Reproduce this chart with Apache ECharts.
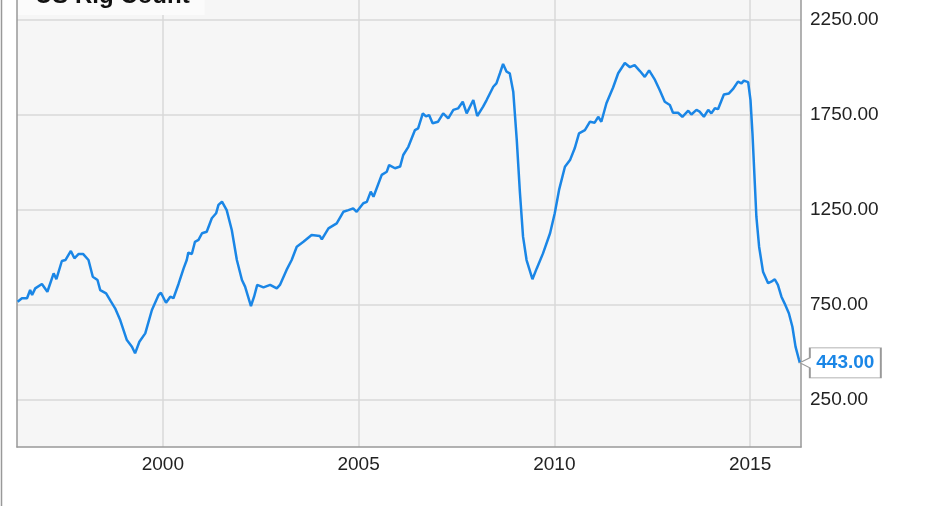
<!DOCTYPE html>
<html>
<head>
<meta charset="utf-8">
<style>html,body{margin:0;padding:0;background:#fff;}#c{width:931px;height:506px;}</style>
<script src="https://cdn.jsdelivr.net/npm/echarts@6/dist/echarts.min.js"></script>
</head>
<body>
<div id="c"></div>
<script>
var titleText = 'US Rig Count';
var yTicks = [250, 750, 1250, 1750, 2250];
var xTicks = [2000, 2005, 2010, 2015];
var years = [
1996.29,1996.40,1996.53,1996.61,1996.66,1996.74,1996.91,1996.95,1997.05,1997.21,
1997.28,1997.42,1997.51,1997.65,1997.74,1997.85,1997.96,1998.10,1998.21,1998.33,
1998.40,1998.55,1998.66,1998.78,1998.91,1999.08,1999.21,1999.29,1999.40,1999.55,
1999.72,1999.89,1999.95,2000.08,2000.19,2000.27,2000.40,2000.53,2000.61,2000.65,
2000.74,2000.82,2000.91,2001.00,2001.12,2001.25,2001.36,2001.42,2001.51,2001.63,
2001.76,2001.89,2002.02,2002.10,2002.25,2002.33,2002.41,2002.57,2002.74,2002.91,
2002.99,2003.16,2003.29,2003.42,2003.59,2003.80,2004.01,2004.06,2004.23,2004.44,
2004.61,2004.74,2004.86,2004.95,2005.12,2005.21,2005.31,2005.38,2005.59,2005.72,
2005.78,2005.93,2006.06,2006.14,2006.27,2006.44,2006.52,2006.64,2006.72,2006.80,
2006.89,2007.03,2007.16,2007.29,2007.42,2007.54,2007.66,2007.76,2007.93,2008.03,
2008.18,2008.27,2008.44,2008.52,2008.61,2008.69,2008.78,2008.86,2008.95,2009.04,
2009.12,2009.20,2009.29,2009.44,2009.55,2009.71,2009.89,2010.01,2010.12,2010.27,
2010.40,2010.52,2010.63,2010.78,2010.91,2011.03,2011.12,2011.20,2011.33,2011.50,
2011.63,2011.80,2011.93,2012.05,2012.18,2012.31,2012.42,2012.57,2012.69,2012.82,
2012.95,2013.03,2013.16,2013.27,2013.42,2013.50,2013.63,2013.71,2013.82,2013.93,
2014.01,2014.10,2014.18,2014.33,2014.46,2014.56,2014.69,2014.78,2014.84,2014.95,
2015.01,2015.06,2015.12,2015.16,2015.23,2015.33,2015.46,2015.54,2015.63,2015.71,
2015.80,2015.88,2015.99,2016.08,2016.16,2016.25,2016.27
];
var rigs = [
765,783,783,826,800,835,858,868,817,914,
883,979,984,1032,993,1016,1016,984,896,879,
826,809,770,730,668,563,528,493,554,598,
721,800,812,759,791,783,858,940,984,1023,
1016,1080,1090,1125,1133,1204,1230,1274,1291,1247,
1142,984,879,844,742,791,853,840,853,835,
853,932,984,1054,1080,1116,1110,1093,1151,1177,
1238,1247,1256,1238,1283,1290,1344,1317,1432,1449,
1484,1467,1476,1537,1580,1668,1677,1756,1740,1747,
1704,1712,1756,1730,1774,1782,1817,1756,1826,1742,
1791,1826,1896,1914,1967,2016,1975,1967,1870,1615,
1340,1107,984,883,940,1019,1125,1230,1353,1475,
1510,1572,1651,1668,1712,1707,1738,1712,1809,1892,
1967,2021,1999,2010,1980,1948,1982,1932,1879,1817,
1800,1759,1759,1738,1770,1750,1774,1765,1738,1774,
1756,1783,1778,1855,1861,1883,1923,1914,1928,1920,
1826,1651,1388,1212,1054,923,862,870,883,853,
791,756,704,633,528,458,443
];

var lineColor = '#1a86e6';
var font = '"Liberation Sans", Arial, sans-serif';
var seriesData = years.map(function (y, i) { return [y, rigs[i]]; });
var lastIdx = years.length - 1;
var border = {show: true, lineStyle: {color: '#999', width: 1.5}};

var chart = echarts.init(document.getElementById('c'), null, {renderer: 'canvas'});
chart.setOption({
  animation: false,
  backgroundColor: '#ffffff',
  title: {
    text: titleText,
    left: 18,
    top: -16,
    backgroundColor: '#fbfbfb',
    padding: [0, 15, 7, 17],
    textStyle: {fontFamily: font, fontSize: 24, fontWeight: 'bold', color: '#111'}
  },
  grid: {
    left: 17, right: 130, top: 0, bottom: 59,
    show: true, backgroundColor: '#f6f6f6', borderWidth: 0,
    containLabel: false
  },
  xAxis: {
    type: 'value',
    min: 1996.274, max: 2016.30,
    axisLine: border,
    axisTick: {show: false, customValues: xTicks},
    axisLabel: {customValues: xTicks, fontFamily: font, fontSize: 19, color: '#222', margin: 8,
      formatter: function (v) { return String(Math.round(v)); }},
    splitLine: {show: true, lineStyle: {color: '#d8d8d8', width: 1.5}}
  },
  yAxis: [{
    type: 'value',
    position: 'right',
    min: 0, max: 2352.6,
    axisLine: border,
    axisTick: {show: false, customValues: yTicks},
    axisLabel: {customValues: yTicks, fontFamily: font, fontSize: 19, color: '#222', margin: 9,
      formatter: function (v) { return v.toFixed(2); }},
    splitLine: {show: true, lineStyle: {color: '#d8d8d8', width: 1.5}}
  }, {
    type: 'value',
    position: 'left',
    min: 0, max: 2352.6,
    axisLine: border,
    axisTick: {show: false},
    axisLabel: {show: false},
    splitLine: {show: false}
  }],
  graphic: [{
    type: 'line', shape: {x1: 1.5, y1: 0, x2: 1.5, y2: 506},
    style: {stroke: '#999', lineWidth: 1.5}, silent: true
  }],
  series: [{
    type: 'line',
    yAxisIndex: 0,
    data: seriesData,
    showSymbol: false,
    symbol: 'none',
    lineStyle: {color: lineColor, width: 2.5},
    clip: true,
    markPoint: {
      silent: true,
      data: [{
        coord: [years[lastIdx], rigs[lastIdx]],
        value: rigs[lastIdx],
        symbol: 'path://M0,15L10,10L10,0L81,0L81,30L10,30L10,20Z',
        symbolSize: [81, 30],
        symbolOffset: [40.5, 0],
        itemStyle: {color: '#ffffff', borderColor: '#999', borderWidth: 1.2},
        label: {
          show: true, position: 'inside', offset: [5, 0],
          formatter: function (p) { return Number(p.value).toFixed(2); },
          color: lineColor, fontFamily: font, fontSize: 19, fontWeight: 'bold'
        }
      }]
    }
  }]
});
</script>
</body>
</html>
